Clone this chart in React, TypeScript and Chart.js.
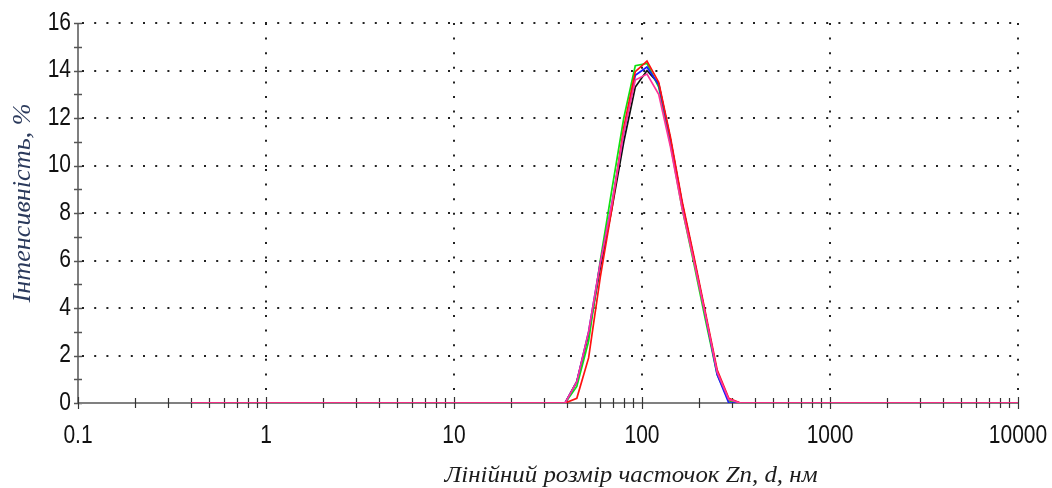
import React, { useEffect, useRef } from 'react';
import { Chart, registerables } from 'chart.js';

Chart.register(...registerables);

// Particle size (nm) sample points and intensity (%) per measurement
const SIZES_NM = [0.4, 39, 45, 52, 60, 69.2, 80, 92.1, 106.3, 122.7, 141.6, 163.4, 188.5, 217.5, 251, 289.5, 334, 10000];
const PINK = [0, 0, 0.9, 3.0, 5.9, 8.4, 11.4, 13.6, 13.85, 13.0, 10.8, 8.2, 6.0, 3.7, 1.3, 0.15, 0, 0];
const RED = [0, 0, 0.2, 1.9, 5.3, 8.2, 11.6, 13.95, 14.4, 13.5, 11.2, 8.5, 6.2, 3.8, 1.4, 0.2, 0, 0];
const GREEN = [0, 0, 0.7, 2.6, 6.0, 9.0, 12.0, 14.2, 14.3, 13.3, 10.9, 8.2, 5.9, 3.5, 1.2, 0.1, 0, 0];
const BLUE = [0, 0, 0.9, 3.0, 5.9, 8.4, 11.4, 13.8, 14.15, 13.4, 11.1, 8.4, 6.1, 3.7, 1.2, 0, 0, 0];
const BLACK = [0, 0, 0.9, 2.9, 5.7, 8.2, 11.0, 13.3, 14.0, 13.45, 11.1, 8.4, 6.1, 3.7, 1.3, 0.1, 0, 0];

const X_TICKS = [0.1, 1, 10, 100, 1000, 10000];
const X_TICK_LABELS = ['0.1', '1', '10', '100', '1000', '10000'];
const Y_TICKS = [0, 2, 4, 6, 8, 10, 12, 14, 16];
const Y_TICK_LABELS = ['0', '2', '4', '6', '8', '10', '12', '14', '16'];
const Y_MINOR = [1, 3, 5, 7, 9, 11, 13, 15];

const X_TITLE = 'Лінійний розмір часточок Zn, d, нм';
const Y_TITLE = 'Інтенсивність, %';

const series = [
  { label: 'pink', color: '#ff3399', values: PINK },
  { label: 'red', color: '#ff1010', values: RED },
  { label: 'blue', color: '#1a1aff', values: BLUE },
  { label: 'green', color: '#10e010', values: GREEN },
  { label: 'black', color: '#101010', values: BLACK },
];

const decorPlugin = {
  id: 'decor',
  beforeDatasetsDraw(chart: any) {
    const { ctx, chartArea: a, scales } = chart;
    const x = scales.x;
    const y = scales.y;
    const line = (x1: number, y1: number, x2: number, y2: number) => {
      ctx.beginPath();
      ctx.moveTo(x1, y1);
      ctx.lineTo(x2, y2);
      ctx.stroke();
    };
    ctx.save();
    ctx.setLineDash([]);
    // y axis
    ctx.strokeStyle = '#555';
    ctx.lineWidth = 1.5;
    line(a.left, a.top, a.left, a.bottom);
    Y_TICKS.concat(Y_MINOR).forEach((v) => {
      const py = Math.round(y.getPixelForValue(v)) + 0.5;
      line(a.left - 4, py, a.left + 4, py);
    });
    // x axis
    ctx.strokeStyle = '#808080';
    ctx.lineWidth = 2;
    line(a.left, a.bottom, a.right, a.bottom);
    ctx.strokeStyle = '#333';
    ctx.lineWidth = 1.2;
    for (let k = -1; k <= 4; k++) {
      for (let m = 1; m <= 9; m++) {
        const v = m * Math.pow(10, k);
        if (v < 0.1 - 1e-9 || v > 10000 + 1e-6) continue;
        const px = Math.round(x.getPixelForValue(v)) + 0.5;
        if (m === 1) line(px, a.bottom - 6, px, a.bottom + 6);
        else line(px, a.bottom - 5, px, a.bottom + 5);
      }
    }
    ctx.restore();
  },
  afterDraw(chart: any) {
    const { ctx, chartArea: a, scales } = chart;
    const x = scales.x;
    const y = scales.y;
    ctx.save();
    ctx.fillStyle = '#111';
    ctx.font = "21px 'Liberation Sans', Arial, sans-serif";
    // y tick labels
    ctx.textAlign = 'right';
    ctx.textBaseline = 'middle';
    Y_TICKS.forEach((v, i) => {
      const py = y.getPixelForValue(v);
      ctx.save();
      ctx.translate(a.left - 7, py);
      ctx.scale(1, 1.2);
      ctx.fillText(Y_TICK_LABELS[i], 0, 0);
      ctx.restore();
    });
    // x tick labels
    ctx.textAlign = 'center';
    X_TICKS.forEach((v, i) => {
      const px = x.getPixelForValue(v);
      ctx.save();
      ctx.translate(px, a.bottom + 33);
      ctx.scale(1, 1.2);
      ctx.fillText(X_TICK_LABELS[i], 0, 0);
      ctx.restore();
    });
    // x title
    ctx.font = "italic 24px 'Liberation Serif', 'Times New Roman', serif";
    ctx.fillStyle = '#1c1c1c';
    ctx.textAlign = 'center';
    ctx.textBaseline = 'alphabetic';
    let w = ctx.measureText(X_TITLE).width;
    ctx.save();
    ctx.translate(631, 482);
    ctx.scale(373 / w, 1);
    ctx.fillText(X_TITLE, 0, 0);
    ctx.restore();
    // y title
    ctx.font = "italic 25px 'Liberation Serif', 'Times New Roman', serif";
    ctx.fillStyle = '#2b3a5c';
    w = ctx.measureText(Y_TITLE).width;
    ctx.save();
    ctx.translate(30, 203);
    ctx.rotate(-Math.PI / 2);
    ctx.scale(199 / w, 1);
    ctx.fillText(Y_TITLE, 0, 0);
    ctx.restore();
    ctx.restore();
  },
};

export default function App() {
  const ref = useRef<HTMLCanvasElement | null>(null);

  useEffect(() => {
    if (!ref.current) return;
    const chart = new Chart(ref.current, {
      type: 'line',
      data: {
        datasets: series.map((s) => ({
          label: s.label,
          data: SIZES_NM.map((d, i) => ({ x: d, y: s.values[i] })),
          borderColor: s.color,
          backgroundColor: s.color,
          borderWidth: 1.7,
          pointRadius: 0,
          tension: 0,
          fill: false,
        })),
      },
      options: {
        animation: false,
        responsive: false,
        maintainAspectRatio: false,
        layout: { padding: { left: 0, top: 23, right: 34, bottom: 0 } },
        plugins: {
          legend: { display: false },
          tooltip: { enabled: false },
          title: { display: false },
        },
        scales: {
          x: {
            type: 'logarithmic',
            min: 0.1,
            max: 10000,
            afterBuildTicks: (s: any) => {
              s.ticks = X_TICKS.map((v) => ({ value: v }));
            },
            afterFit: (s: any) => {
              s.height = 85;
            },
            ticks: { display: false },
            grid: {
              drawTicks: false,
              lineWidth: 2,
              color: (c: any) => (c.tick && c.tick.value <= 0.1 ? 'rgba(0,0,0,0)' : '#222'),
            },
            border: { display: false, dash: [2, 12.6], dashOffset: 0 },
          },
          y: {
            type: 'linear',
            min: 0,
            max: 16,
            afterBuildTicks: (s: any) => {
              s.ticks = Y_TICKS.map((v) => ({ value: v }));
            },
            afterFit: (s: any) => {
              s.width = 78;
            },
            ticks: { display: false },
            grid: {
              drawTicks: false,
              lineWidth: 2,
              color: (c: any) => (c.tick && c.tick.value === 0 ? 'rgba(0,0,0,0)' : '#222'),
            },
            border: { display: false, dash: [2, 10.2], dashOffset: -4 },
          },
        },
      },
      plugins: [decorPlugin],
    });
    return () => chart.destroy();
  }, []);

  return (
    <div style={{ position: 'absolute', left: 0, top: 0, width: 1052, height: 488, background: '#fff' }}>
      <canvas ref={ref} width={1052} height={488} style={{ width: 1052, height: 488, display: 'block' }} />
    </div>
  );
}
